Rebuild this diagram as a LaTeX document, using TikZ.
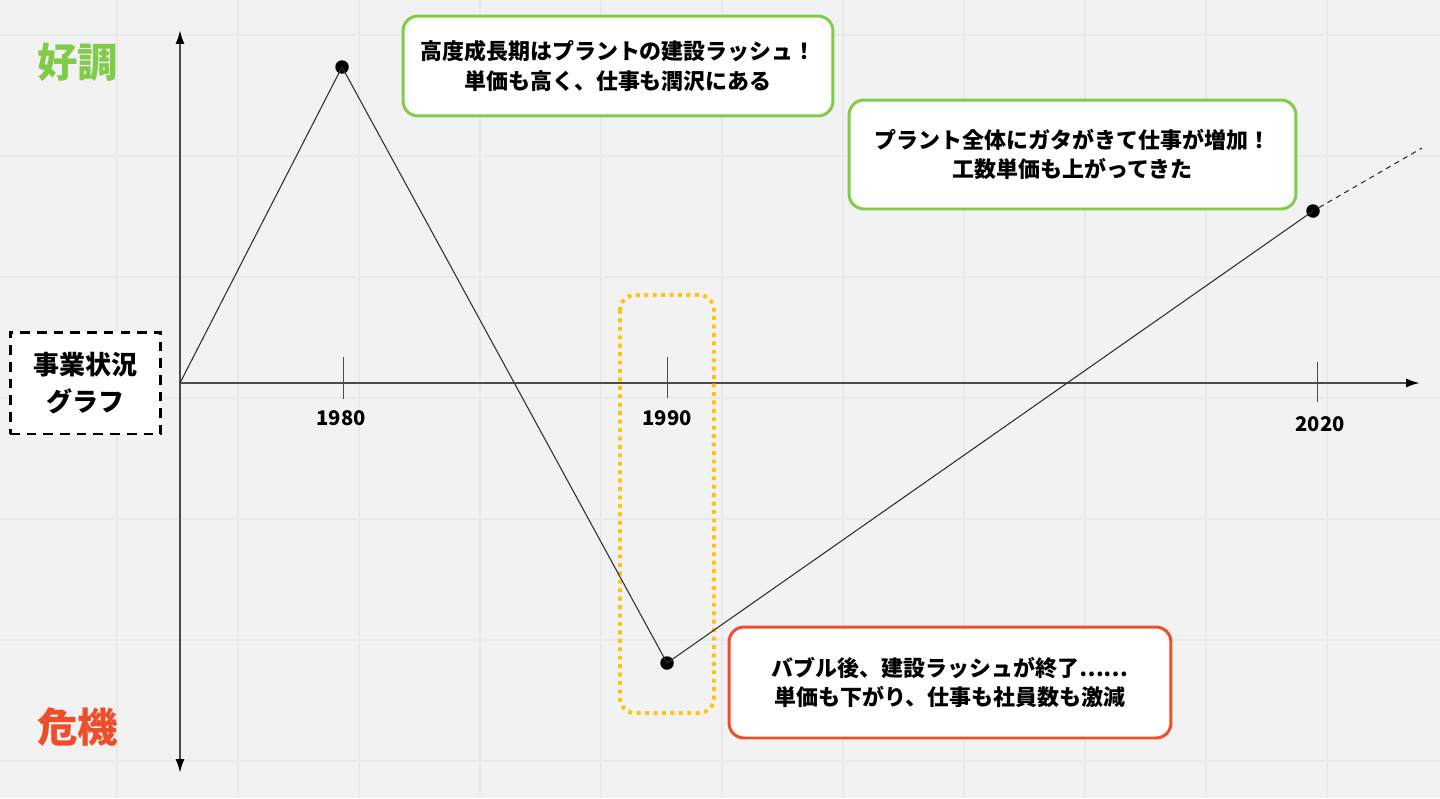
\documentclass[tikz,border=0pt]{standalone}
\usepackage{fontspec}
\setmainfont{Noto Sans CJK JP}
\usepackage{tikz}
\usetikzlibrary{arrows.meta, positioning}

\definecolor{bgcol}{RGB}{242,242,242}
\definecolor{gridcol}{RGB}{233,233,233}
\definecolor{goodcol}{RGB}{128,204,72}
\definecolor{badcol}{RGB}{240,78,42}
\definecolor{markcol}{RGB}{255,196,10}
\definecolor{axiscol}{RGB}{75,75,75}
\definecolor{linecol}{RGB}{45,45,45}

\begin{document}
\begin{tikzpicture}[x=0.02cm, y=-0.02cm, node distance=0.2cm, >={Latex[length=2.8mm,width=1.8mm,color=black]}]
            \tikzstyle{note} = [draw, fill=white, rounded corners=0.3cm, line width=1.7pt, align=center, font=\fontsize{12.5}{17}\selectfont\bfseries]
            \tikzstyle{dot} = [circle, fill=black, inner sep=0pt, minimum size=0.27cm]
            \tikzstyle{axis} = [draw=axiscol, line width=1.2pt]
            \tikzstyle{graph} = [draw=linecol, line width=0.6pt]
            \tikzstyle{tick} = [draw=axiscol, line width=0.5pt]
            \tikzstyle{year} = [font=\fontsize{11.5}{14}\selectfont\bfseries, inner sep=1pt]
            \tikzstyle{mood} = [font=\fontsize{23}{28}\selectfont\bfseries]
            \tikzstyle{gridline} = [draw=gridcol, line width=0.6pt]

            % Background and grid
            \fill[bgcol] (0,0) rectangle (1440,798);
            \useasboundingbox (0,0) rectangle (1440,798);
            \foreach \x in {117,238,...,1440} \draw[gridline] (\x,0) -- (\x,798);
            \foreach \y in {35,156,...,798} \draw[gridline] (0,\y) -- (1440,\y);

            % Axes
            \coordinate (o) at (180,383);
            \coordinate (top) at (180,30);
            \coordinate (bottom) at (180,773);
            \coordinate (right) at (1420,383);
            \draw[axis, <->] (bottom) -- (top);
            \draw[axis, ->] (o) -- (right);

            % Ticks and years
            \draw[tick] (343,357) -- (343,399);
            \draw[tick] (667,357) -- (667,398);
            \draw[tick] (1317,362) -- (1317,402);
            \node[year] (y1980) at (341,418) {1980};
            \node[year] (y1990) at (667,418) {1990};
            \node[year] (y2020) at (1320,424) {2020};

            % Highlight round 1990
            \draw[markcol, line width=2.2pt, dash pattern=on 2.2pt off 2.6pt, rounded corners=0.3cm] (620,295) rectangle (714,713);

            % Data points
            \node[dot] (d1980) at (342,67) {};
            \node[dot] (d1990) at (667,663) {};
            \node[dot] (d2020) at (1313,211) {};
            \coordinate (trend) at (1422,148);

            % Curve
            \draw[graph] (o) -- (d1980.center) -- (d1990.center) -- (d2020.center);
            \draw[graph, dashed, dash pattern=on 3pt off 2.5pt] (d2020) -- (trend);

            % Labels
            \node[mood, text=goodcol] (good) at (78,62) {好調};
            \node[mood, text=badcol] (bad) at (78,727) {危機};
            \node[draw, fill=white, line width=1.7pt, dash pattern=on 5.5pt off 4pt, minimum width=3.02cm, minimum height=2.04cm, align=center, font=\fontsize{14.8}{21}\selectfont\bfseries] (title) at (85.5,383) {事業状況\\グラフ};

            % Notes
            \node[note, draw=goodcol, minimum width=8.6cm, minimum height=2cm] (n1980) at (618,66) {高度成長期はプラントの建設ラッシュ！\\単価も高く、仕事も潤沢にある};
            \node[note, draw=goodcol, minimum width=8.94cm, minimum height=2.18cm] (n2020) at (1072.5,154.5) {プラント全体にガタがきて仕事が増加！\\工数単価も上がってきた};
            \node[note, draw=badcol, minimum width=8.84cm, minimum height=2.22cm] (n1990) at (950,682.5) {バブル後、建設ラッシュが終了……\\単価も下がり、仕事も社員数も激減};
        \end{tikzpicture}
\end{document}
